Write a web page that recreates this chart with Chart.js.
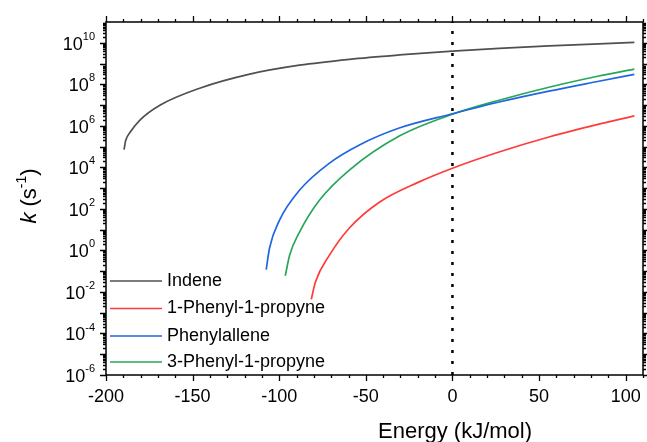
<!DOCTYPE html>
<html>
<head>
<meta charset="utf-8">
<script src="https://cdn.jsdelivr.net/npm/chart.js@4/dist/chart.umd.min.js"></script>
<style>
  html, body { margin: 0; padding: 0; background: #fff; }
  #wrap { width: 647px; height: 442px; }
</style>
</head>
<body>
<div id="wrap"><canvas id="chart" width="647" height="442"></canvas></div>
<script>
// Dados (energia em kJ/mol, k em s^-1)
const seriesNames = ['Indene', '1-Phenyl-1-propyne', 'Phenylallene', '3-Phenyl-1-propyne'];
const seriesColors = ['#505050', '#ff3b3b', '#1f66e0', '#27a65a'];

const indeneE = [-189.6, -188.6, -186, -180.4, -168.9, -145.9, -117, -88.3, -59.5, -30.7, 0, 27, 55.7, 84.5, 105];
const indeneK = [7.1e4, 2.0e5, 5.0e5, 1.9e6, 9.8e6, 6.5e7, 3.1e8, 8.3e8, 1.6e9, 2.6e9, 4.0e9, 5.4e9, 7.1e9, 8.9e9, 1.05e10];

const phenylPropyneE = [-81.5, -79.1, -71, -59.5, -42.2, -19.2, 0, 26.9, 55.7, 84.5, 105];
const phenylPropyneK = [4.4e-3, 3.0e-2, 5.9e-1, 12, 2.1e2, 2.0e3, 9.1e3, 5.5e4, 2.9e5, 1.2e6, 3.0e6];

const phenylalleneE = [-107.5, -105.6, -99.8, -88.3, -71, -53.7, -30.7, 0, 26.9, 55.7, 84.5, 105];
const phenylalleneK = [1.2e-1, 1.3, 29, 7.9e2, 1.6e4, 1.2e5, 7.8e5, 3.8e6, 1.4e7, 4.7e7, 1.4e8, 3.0e8];

const phenylPropyne3E = [-96.5, -94, -88.3, -76.8, -59.5, -30.7, 0, 26.9, 55.7, 84.5, 105];
const phenylPropyne3K = [6.0e-2, 5.9e-1, 7.6, 2.6e2, 7.4e3, 3.2e5, 3.6e6, 1.7e7, 7.2e7, 2.5e8, 5.4e8];

const refEnergy = 0;             // linha pontilhada
const xMin = -200, xMax = 110;
const yMin = 1e-6, yMax = 1e11;
const xTickLabels = [-200, -150, -100, -50, 0, 50, 100];

const FONT = '"Liberation Sans", Arial, sans-serif';

const toPoints = (xs, ys) => xs.map((x, i) => ({ x: x, y: ys[i] }));

const allSeries = [
    toPoints(indeneE, indeneK),
    toPoints(phenylPropyneE, phenylPropyneK),
    toPoints(phenylalleneE, phenylalleneK),
    toPoints(phenylPropyne3E, phenylPropyne3K),
];

const datasets = allSeries.map((pts, i) => ({
    label: seriesNames[i],
    data: pts,
    borderColor: seriesColors[i],
    borderWidth: 1.7,
    pointRadius: 0,
    fill: false,
    cubicInterpolationMode: 'monotone',
}));

datasets.push({
    label: '',
    data: [{ x: refEnergy, y: yMin }, { x: refEnergy, y: yMax }],
    borderColor: '#000',
    borderWidth: 2.5,
    borderDash: [3, 8],
    pointRadius: 0,
    fill: false,
});

// Desenha moldura, ticks, rótulos, títulos e legenda
const framePlugin = {
    id: 'frame',
    afterDraw(chart) {
        const ctx = chart.ctx;
        const area = chart.chartArea;
        const xs = chart.scales.x;
        const ys = chart.scales.y;

        ctx.save();
        ctx.strokeStyle = '#000';
        ctx.lineWidth = 1.5;
        ctx.strokeRect(area.left, area.top, area.right - area.left, area.bottom - area.top);

        // ticks do eixo x (baixo e cima)
        ctx.lineWidth = 1.3;
        ctx.beginPath();
        for (let v = xMin; v <= xMax; v += 10) {
            const px = Math.round(xs.getPixelForValue(v)) + 0.5;
            const len = v % 50 === 0 ? 6 : 3;
            ctx.moveTo(px, area.bottom);
            ctx.lineTo(px, area.bottom + len);
            ctx.moveTo(px, area.top);
            ctx.lineTo(px, area.top - len);
        }
        // ticks do eixo y (esquerda e direita)
        for (let n = -6; n <= 10; n++) {
            for (let m = 1; m <= 9; m++) {
                const v = m * Math.pow(10, n);
                if (v > yMax) break;
                const py = Math.round(ys.getPixelForValue(v)) + 0.5;
                const len = m === 1 ? 6 : 3;
                ctx.moveTo(area.left, py);
                ctx.lineTo(area.left - len, py);
                ctx.moveTo(area.right, py);
                ctx.lineTo(area.right + len, py);
            }
        }
        ctx.stroke();

        // rótulos do eixo x
        ctx.fillStyle = '#000';
        ctx.font = '18px ' + FONT;
        ctx.textAlign = 'center';
        ctx.textBaseline = 'middle';
        xTickLabels.forEach(v => {
            ctx.fillText(String(v), xs.getPixelForValue(v), 397);
        });

        // rótulos do eixo y (10^n)
        for (let n = -6; n <= 10; n += 2) {
            const py = ys.getPixelForValue(Math.pow(10, n));
            const exp = String(n);
            ctx.font = '11px ' + FONT;
            const ew = ctx.measureText(exp).width;
            ctx.textAlign = 'right';
            ctx.textBaseline = 'middle';
            ctx.fillText(exp, 95, py - 6);
            ctx.font = '18px ' + FONT;
            ctx.fillText('10', 95 - ew, py + 2);
        }

        // título do eixo x
        ctx.font = '22px ' + FONT;
        ctx.textAlign = 'center';
        ctx.fillText('Energy (kJ/mol)', 455, 432);

        // título do eixo y: k (s-1)
        ctx.save();
        ctx.translate(30, 196);
        ctx.rotate(-Math.PI / 2);
        const parts = [
            { t: 'k', f: 'italic 22px ' + FONT, dy: 0 },
            { t: ' (s', f: '22px ' + FONT, dy: 0 },
            { t: '-1', f: '14px ' + FONT, dy: -8 },
            { t: ')', f: '22px ' + FONT, dy: 0 },
        ];
        let total = 0;
        parts.forEach(p => { ctx.font = p.f; p.w = ctx.measureText(p.t).width; total += p.w; });
        let cx = -total / 2;
        ctx.textAlign = 'left';
        parts.forEach(p => {
            ctx.font = p.f;
            ctx.fillText(p.t, cx, p.dy);
            cx += p.w;
        });
        ctx.restore();

        // legenda
        const rows = [281, 308.5, 336, 362];
        ctx.font = '18px ' + FONT;
        ctx.textAlign = 'left';
        ctx.textBaseline = 'middle';
        chart.data.datasets.slice(0, 4).forEach((ds, i) => {
            ctx.strokeStyle = ds.borderColor;
            ctx.lineWidth = 1.7;
            ctx.beginPath();
            ctx.moveTo(110, rows[i]);
            ctx.lineTo(162, rows[i]);
            ctx.stroke();
            ctx.fillStyle = '#000';
            ctx.fillText(ds.label, 167, rows[i]);
        });
        ctx.restore();
    }
};

new Chart(document.getElementById('chart'), {
    type: 'line',
    data: { datasets: datasets },
    options: {
        responsive: false,
        animation: false,
        layout: { padding: { top: 22, right: 4, left: 0, bottom: 0 } },
        plugins: { legend: { display: false }, tooltip: { enabled: false } },
        scales: {
            x: {
                type: 'linear',
                min: xMin,
                max: xMax,
                grid: { display: false },
                border: { display: false },
                ticks: { display: false },
                afterFit: (s) => { s.height = 67; },
            },
            y: {
                type: 'logarithmic',
                min: yMin,
                max: yMax,
                grid: { display: false },
                border: { display: false },
                ticks: { display: false },
                afterFit: (s) => { s.width = 106; },
            },
        },
    },
    plugins: [framePlugin],
});
</script>
</body>
</html>
